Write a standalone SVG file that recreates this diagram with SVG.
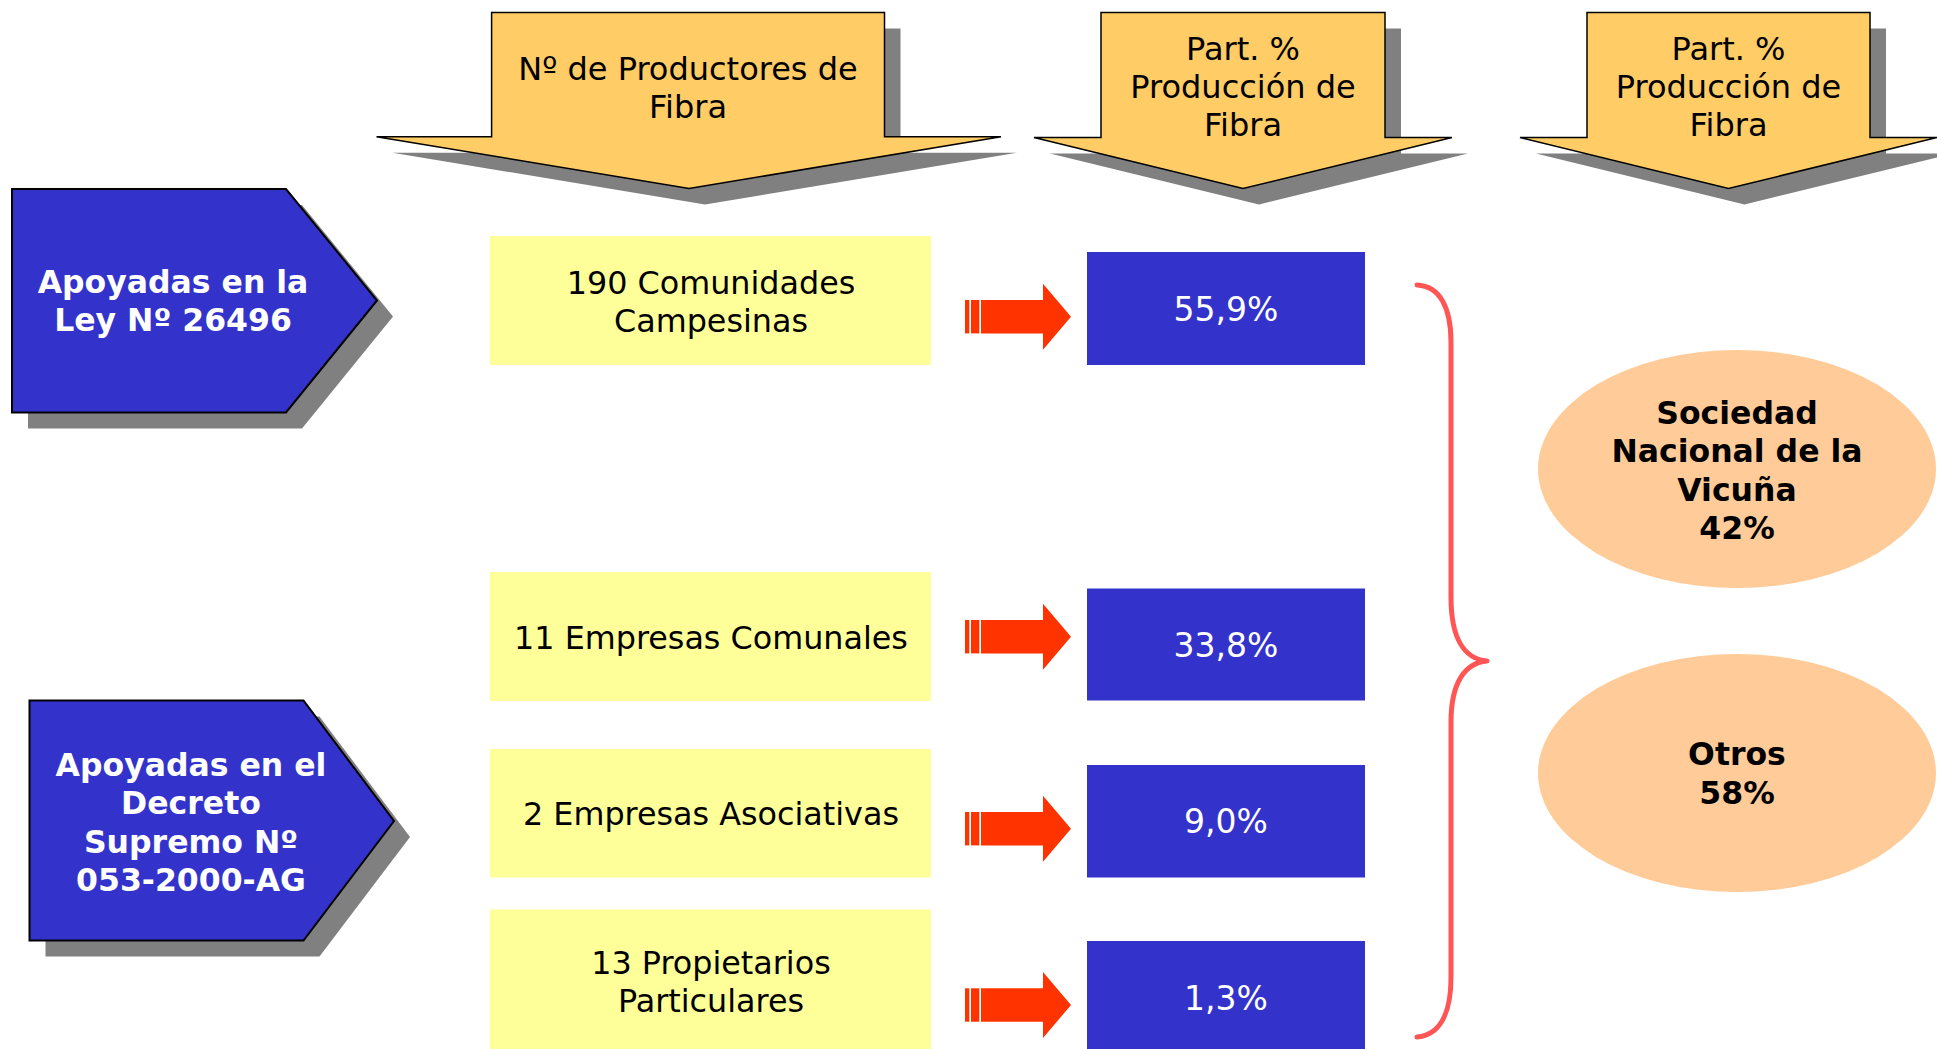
<svg xmlns="http://www.w3.org/2000/svg" width="1937" height="1049" viewBox="0 0 1937 1049">
<defs>
<style>
text{font-family:"DejaVu Sans",Verdana,sans-serif;text-anchor:middle}
.hdr{fill:#ffcc66;stroke:#000;stroke-width:1.5}
.shd{fill:#808080}
.pent{fill:#3333cc;stroke:#000;stroke-width:2}
.pt{fill:#fff;font-weight:bold;font-size:31.5px}
.yb{fill:#ffff99}
.yt{fill:#000;font-size:31.8px}
.bb{fill:#3333cc}
.bt{fill:#fff;font-size:33px}
.ell{fill:#ffcc99}
.et{fill:#000;font-weight:bold;font-size:31.5px}
.ht{fill:#000;font-size:32px}
.ra{fill:#ff3300}
</style>
<g id="redArrow">
<rect x="965" y="-16.7" width="4.3" height="33.4"/>
<rect x="971" y="-16.7" width="8.3" height="33.4"/>
<path d="M981,-16.7 H1043 V-33 L1071,0 L1043,33 V16.7 H981 Z"/>
</g>
</defs>
<rect width="1937" height="1049" fill="#fff"/>

<g id="header1">
<path class="shd" d="M507.6,28.4 H900.5 V152.7 H1017 L705,204.5 L392.5,152.7 H507.6 Z"/>
<path class="hdr" d="M491.6,12.4 H884.5 V136.7 H1001 L689,188.5 L376.5,136.7 H491.6 Z"/>
<text class="ht" x="688" y="80">Nº de Productores de</text>
<text class="ht" x="688" y="118">Fibra</text>
</g>
<g id="header2">
<path class="shd" d="M1117,28.4 H1401 V153.5 H1468 L1259,204.5 L1050,153.5 H1117 Z"/>
<path class="hdr" d="M1101,12.4 H1385 V137.5 H1452 L1243,188.5 L1034,137.5 H1101 Z"/>
<text class="ht" x="1243" y="59.5">Part. %</text>
<text class="ht" x="1243" y="98">Producción de</text>
<text class="ht" x="1243" y="136">Fibra</text>
</g>
<g id="header3">
<path class="shd" d="M1603,28.4 H1886 V153.5 H1953 L1744.5,204.5 L1536,153.5 H1603 Z"/>
<path class="hdr" d="M1587,12.4 H1870 V137.5 H1937 L1728.5,188.5 L1520,137.5 H1587 Z"/>
<text class="ht" x="1728.5" y="59.5">Part. %</text>
<text class="ht" x="1728.5" y="98">Producción de</text>
<text class="ht" x="1728.5" y="136">Fibra</text>
</g>

<g id="ley">
<path class="shd" d="M28,205 H302 L393,316.5 L302,428.5 H28 Z"/>
<path class="pent" d="M12,189 H286 L377,300.5 L286,412.5 H12 Z"/>
<text class="pt" x="173" y="293">Apoyadas en la</text>
<text class="pt" x="173" y="331">Ley Nº 26496</text>
</g>
<g id="decreto">
<path class="shd" d="M45.5,716.5 H319.5 L410,837 L319.5,956.5 H45.5 Z"/>
<path class="pent" d="M29.5,700.5 H303.5 L394,821 L303.5,940.5 H29.5 Z"/>
<text class="pt" x="191" y="776">Apoyadas en el</text>
<text class="pt" x="191" y="814">Decreto</text>
<text class="pt" x="191" y="852.5">Supremo Nº</text>
<text class="pt" x="191" y="891">053-2000-AG</text>
</g>

<g id="prod1">
<rect class="yb" x="490" y="236" width="441" height="129"/>
<text class="yt" x="711" y="294">190 Comunidades</text>
<text class="yt" x="711" y="331.5">Campesinas</text>
</g>
<g id="prod2">
<rect class="yb" x="490" y="572" width="441" height="129"/>
<text class="yt" x="711" y="649">11 Empresas Comunales</text>
</g>
<g id="prod3">
<rect class="yb" x="490" y="749" width="441" height="128.5"/>
<text class="yt" x="711" y="825">2 Empresas Asociativas</text>
</g>
<g id="prod4">
<rect class="yb" x="490" y="909.5" width="441" height="139.5"/>
<text class="yt" x="711" y="974">13 Propietarios</text>
<text class="yt" x="711" y="1012">Particulares</text>
</g>

<g id="pct1">
<rect class="bb" x="1087" y="252" width="278" height="113"/>
<text class="bt" x="1226" y="321">55,9%</text>
</g>
<g id="pct2">
<rect class="bb" x="1087" y="588.5" width="278" height="112"/>
<text class="bt" x="1226" y="657">33,8%</text>
</g>
<g id="pct3">
<rect class="bb" x="1087" y="765" width="278" height="112.5"/>
<text class="bt" x="1226" y="833">9,0%</text>
</g>
<g id="pct4">
<rect class="bb" x="1087" y="941" width="278" height="108"/>
<text class="bt" x="1226" y="1010">1,3%</text>
</g>

<g id="sociedad">
<ellipse class="ell" cx="1737" cy="469" rx="199" ry="119"/>
<text class="et" x="1737" y="424">Sociedad</text>
<text class="et" x="1737" y="462">Nacional de la</text>
<text class="et" x="1737" y="500.5">Vicuña</text>
<text class="et" x="1737" y="539">42%</text>
</g>
<g id="otros">
<ellipse class="ell" cx="1737" cy="773" rx="199" ry="119"/>
<text class="et" x="1737" y="765">Otros</text>
<text class="et" x="1737" y="804">58%</text>
</g>

<g id="connectors">
<use href="#redArrow" class="ra" transform="translate(0,316.7)"/>
<use href="#redArrow" class="ra" transform="translate(0,636.7)"/>
<use href="#redArrow" class="ra" transform="translate(0,828.7)"/>
<use href="#redArrow" class="ra" transform="translate(0,1005)"/>
<path d="M1417,285 C1440,286 1451,308 1451,342 L1451,597 C1451,638 1464,659 1487,661 C1464,663 1451,684 1451,722 L1451,977 C1451,1013 1440,1035 1417,1037" fill="none" stroke="#ff5555" stroke-width="5" stroke-linecap="round" stroke-linejoin="round"/>
</g>
</svg>
